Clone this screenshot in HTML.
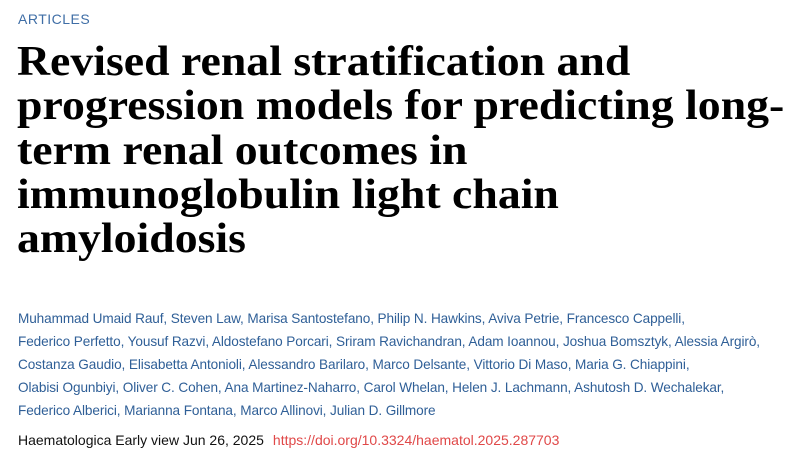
<!DOCTYPE html>
<html><head><meta charset="utf-8"><style>
body{margin:0;width:800px;height:457px;background:#fff;overflow:hidden;position:relative;font-family:"Liberation Sans",sans-serif}
.a{position:absolute;white-space:nowrap}
#tag{left:18px;top:11px;font-size:14px;color:#3f6ea6;letter-spacing:0.5px}
.t{left:17px;font-family:"Liberation Serif",serif;font-weight:bold;font-size:42px;color:#000;line-height:44px;transform:scaleX(1.09);transform-origin:0 0}
.au{left:18px;font-size:13.6px;color:#2f5f97;letter-spacing:-0.1px}
#foot{left:18px;top:432px;font-size:14px;color:#111}
#foot span{color:#e04848;margin-left:9px}
</style></head><body>
<div class="a" id="tag">ARTICLES</div>
<div>
<div class="a t" style="top:40px">Revised renal stratification and</div>
<div class="a t" style="top:84px">progression models for predicting long-</div>
<div class="a t" style="top:129px">term renal outcomes in</div>
<div class="a t" style="top:173px">immunoglobulin light chain</div>
<div class="a t" style="top:217px">amyloidosis</div>
</div>
<div>
<div class="a au" style="top:311px">Muhammad Umaid Rauf, Steven Law, Marisa Santostefano, Philip N. Hawkins, Aviva Petrie, Francesco Cappelli,</div>
<div class="a au" style="top:334px">Federico Perfetto, Yousuf Razvi, Aldostefano Porcari, Sriram Ravichandran, Adam Ioannou, Joshua Bomsztyk, Alessia Argirò,</div>
<div class="a au" style="top:357px">Costanza Gaudio, Elisabetta Antonioli, Alessandro Barilaro, Marco Delsante, Vittorio Di Maso, Maria G. Chiappini,</div>
<div class="a au" style="top:380px">Olabisi Ogunbiyi, Oliver C. Cohen, Ana Martinez-Naharro, Carol Whelan, Helen J. Lachmann, Ashutosh D. Wechalekar,</div>
<div class="a au" style="top:403px">Federico Alberici, Marianna Fontana, Marco Allinovi, Julian D. Gillmore</div>
</div>
<div class="a" id="foot">Haematologica Early view Jun 26, 2025<span>https://doi.org/10.3324/haematol.2025.287703</span></div>
</body></html>
